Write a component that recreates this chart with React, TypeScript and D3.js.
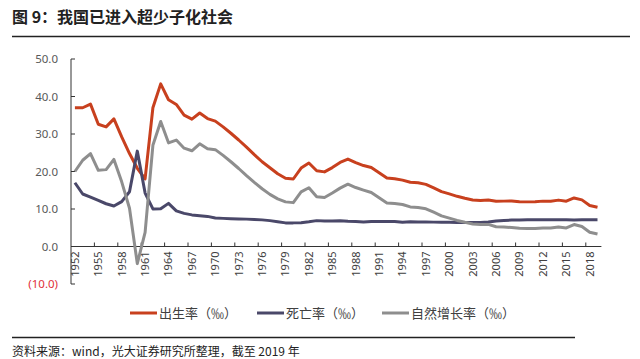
import React, { useRef, useEffect } from 'react';
import * as d3 from 'd3';

// years 1952-2019
const years = d3.range(1952, 2020).map(String);

// 出生率 (‰)
const birthRate = [
  37.0, 37.0, 37.97, 32.6, 31.9, 34.03, 29.22, 24.78, 20.86, 18.02,
  37.01, 43.37, 39.14, 37.88, 35.05, 33.96, 35.59, 34.11, 33.43, 31.9,
  30.2, 28.4, 26.5, 24.5, 22.6, 21.0, 19.4, 18.2, 18.0, 20.91,
  22.28, 20.19, 19.9, 21.04, 22.43, 23.33, 22.37, 21.58, 21.06, 19.68,
  18.24, 18.09, 17.7, 17.12, 16.98, 16.57, 15.64, 14.64, 14.03, 13.38,
  12.86, 12.41, 12.29, 12.4, 12.09, 12.1, 12.14, 11.95, 11.9, 11.93,
  12.1, 12.08, 12.37, 12.07, 12.95, 12.43, 10.94, 10.48
];

// 死亡率 (‰)
const deathRate = [
  17.0, 14.0, 13.18, 12.28, 11.4, 10.8, 11.98, 14.59, 25.43, 14.24,
  10.02, 10.04, 11.5, 9.5, 8.83, 8.43, 8.21, 8.03, 7.6, 7.5,
  7.42, 7.36, 7.3, 7.22, 7.1, 6.9, 6.6, 6.3, 6.3, 6.36,
  6.6, 6.9, 6.82, 6.78, 6.86, 6.72, 6.64, 6.54, 6.67, 6.7,
  6.64, 6.64, 6.49, 6.57, 6.56, 6.51, 6.5, 6.46, 6.45, 6.43,
  6.41, 6.4, 6.42, 6.51, 6.81, 6.93, 7.06, 7.08, 7.11, 7.14,
  7.15, 7.16, 7.16, 7.11, 7.09, 7.11, 7.13, 7.14
];

// 自然增长率 (‰)
const growthRate = [
  20.0, 23.0, 24.79, 20.32, 20.5, 23.23, 17.24, 10.19, -4.57, 3.78,
  26.99, 33.33, 27.64, 28.38, 26.22, 25.53, 27.38, 26.08, 25.83, 24.3,
  22.6, 20.8, 18.9, 17.1, 15.4, 13.9, 12.7, 11.9, 11.7, 14.55,
  15.68, 13.29, 13.08, 14.26, 15.57, 16.61, 15.73, 15.04, 14.39, 12.98,
  11.6, 11.45, 11.21, 10.55, 10.42, 10.06, 9.14, 8.18, 7.58, 6.95,
  6.45, 6.01, 5.87, 5.89, 5.28, 5.17, 5.08, 4.87, 4.79, 4.79,
  4.95, 4.92, 5.21, 4.96, 5.86, 5.32, 3.81, 3.34
];

const yTicks = [-10, 0, 10, 20, 30, 40, 50];
const seriesNames = ['出生率（‰）', '死亡率（‰）', '自然增长率（‰）'];

const App = () => {
  const svgRef = useRef<SVGSVGElement>(null);

  useEffect(() => {
    const width = 640;
    const height = 359;
    const svg = d3.select(svgRef.current);
    svg.selectAll('*').remove();
    svg.attr('width', width).attr('height', height);

    const cjk = '"Noto Sans CJK SC", "Noto Sans", sans-serif';
    const colors = ['#C8401E', '#4A4869', '#8E8E8E'];

    // title
    svg.append('text')
      .attr('x', 12).attr('y', 23)
      .attr('font-family', cjk).attr('font-size', 16).attr('font-weight', 'bold')
      .attr('fill', '#222')
      .text('图 9：我国已进入超少子化社会');
    svg.append('line')
      .attr('x1', 12).attr('x2', 630).attr('y1', 36.5).attr('y2', 36.5)
      .attr('stroke', '#222').attr('stroke-width', 1.5);

    const x = d3.scaleBand().domain(years).range([71, 601.4]);
    const y = d3.scaleLinear().domain([-10, 50]).range([284, 59]);

    const chart = svg.append('g');

    // y axis
    chart.append('line')
      .attr('x1', 71).attr('x2', 71).attr('y1', y(50)).attr('y2', y(-10))
      .attr('stroke', '#333').attr('stroke-width', 1);
    chart.selectAll('.ytick')
      .data(yTicks)
      .enter()
      .append('line')
      .attr('x1', 71).attr('x2', 75)
      .attr('y1', d => y(d)).attr('y2', d => y(d))
      .attr('stroke', '#333');
    chart.selectAll('.ylabel')
      .data(yTicks)
      .enter()
      .append('text')
      .attr('x', 58).attr('y', d => y(d))
      .attr('dy', '0.35em')
      .attr('text-anchor', 'end')
      .attr('font-family', 'Noto Sans, sans-serif').attr('font-size', 11.5)
      .attr('fill', d => (d < 0 ? '#E0303A' : '#595959'))
      .text(d => (d < 0 ? `(${Math.abs(d).toFixed(1)})` : d.toFixed(1)));

    // x axis at zero
    chart.append('line')
      .attr('x1', 71).attr('x2', 601.4).attr('y1', y(0)).attr('y2', y(0))
      .attr('stroke', '#333').attr('stroke-width', 1);
    const tickIdx = d3.range(3, 67, 3);
    chart.selectAll('.xtick')
      .data(tickIdx)
      .enter()
      .append('line')
      .attr('x1', i => x(years[i]) as number).attr('x2', i => x(years[i]) as number)
      .attr('y1', y(0) - 4).attr('y2', y(0))
      .attr('stroke', '#333');
    const labelIdx = d3.range(0, 68, 3);
    chart.selectAll('.xlabel')
      .data(labelIdx)
      .enter()
      .append('text')
      .attr('transform', i => `translate(${(x(years[i]) as number) + x.bandwidth() / 2},${y(0) + 5}) rotate(-90)`)
      .attr('dy', '0.35em')
      .attr('text-anchor', 'end')
      .attr('font-family', 'Noto Sans, sans-serif').attr('font-size', 11)
      .attr('fill', '#404040')
      .text(i => years[i]);

    // lines
    const line = d3.line<number>()
      .x((_, i) => (x(years[i]) as number) + x.bandwidth() / 2)
      .y(d => y(d));

    [birthRate, deathRate, growthRate].forEach((s, k) => {
      chart.append('path')
        .datum(s)
        .attr('d', line)
        .attr('fill', 'none')
        .attr('stroke', colors[k])
        .attr('stroke-width', 3)
        .attr('stroke-linejoin', 'round');
    });

    // legend
    const legendX = [130, 257, 382];
    seriesNames.forEach((name, k) => {
      svg.append('line')
        .attr('x1', legendX[k]).attr('x2', legendX[k] + 27)
        .attr('y1', 313).attr('y2', 313)
        .attr('stroke', colors[k]).attr('stroke-width', 3);
      svg.append('text')
        .attr('x', legendX[k] + 29).attr('y', 313)
        .attr('dy', '0.35em')
        .attr('font-family', cjk).attr('font-size', 13)
        .attr('fill', '#404040')
        .text(name);
    });

    // source
    svg.append('line')
      .attr('x1', 12).attr('x2', 575).attr('y1', 337.5).attr('y2', 337.5)
      .attr('stroke', '#222').attr('stroke-width', 1.5);
    svg.append('text')
      .attr('x', 12).attr('y', 352)
      .attr('dy', '0.3em')
      .attr('font-family', cjk).attr('font-size', 12)
      .attr('fill', '#222')
      .text('资料来源：wind，光大证券研究所整理，截至 2019 年');
  }, []);

  return <svg ref={svgRef} style={{ position: 'absolute', left: 0, top: 0, background: '#fff' }} />;
};

export default App;
